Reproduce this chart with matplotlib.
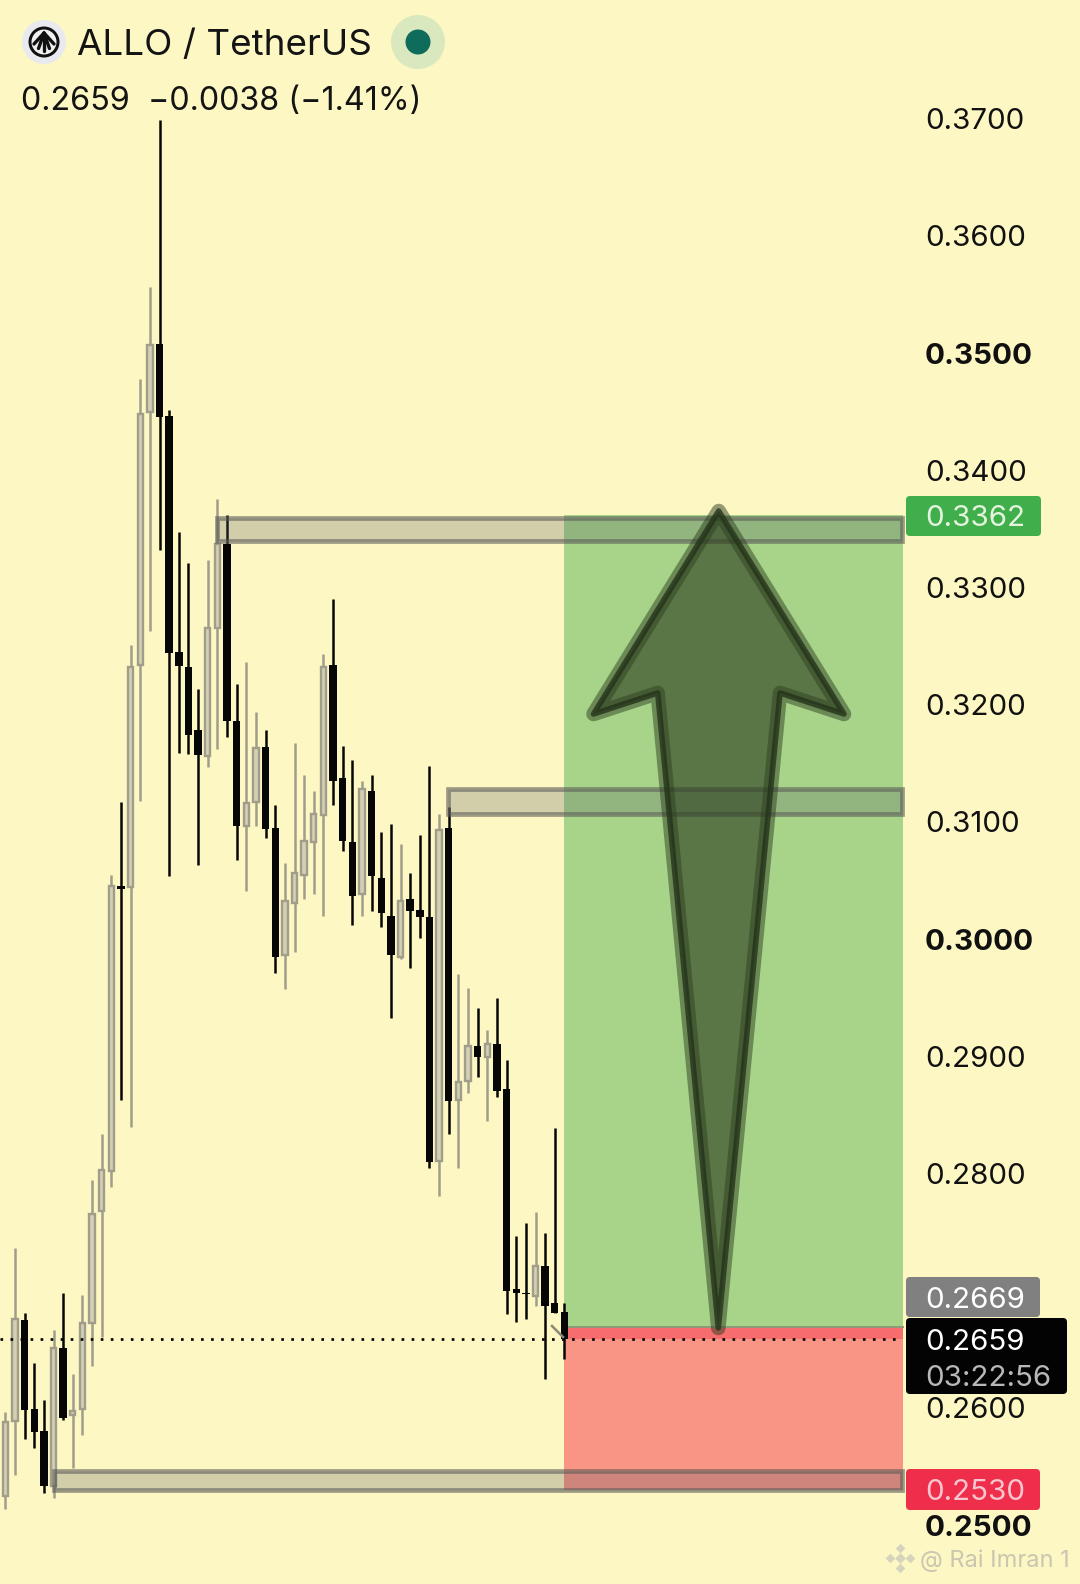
#!/usr/bin/env python3
"""ALLO / TetherUS candle chart with long setup box and arrow."""

import matplotlib
matplotlib.use("Agg")
import matplotlib.pyplot as plt
from matplotlib.patches import Circle, FancyBboxPatch, Polygon, Rectangle

# candles, oldest first
opens = [0.2525, 0.2589, 0.2675, 0.2599, 0.2580, 0.2533, 0.2651, 0.2594, 0.2599, 0.2672,
         0.2768, 0.2802, 0.3045, 0.3044, 0.3234, 0.3450, 0.3508, 0.3446, 0.3245, 0.3232,
         0.3178, 0.3156, 0.3265, 0.3337, 0.3186, 0.3096, 0.3117, 0.3164, 0.3095, 0.2986,
         0.3031, 0.3055, 0.3083, 0.3106, 0.3234, 0.3137, 0.3083, 0.3038, 0.3126, 0.3052,
         0.3020, 0.2985, 0.3034, 0.3025, 0.3019, 0.2811, 0.3095, 0.2863, 0.2879, 0.2909,
         0.2899, 0.2910, 0.2872, 0.2701, 0.2698, 0.2695, 0.2721, 0.2689, 0.2682]
highs = [0.2596, 0.2736, 0.2681, 0.2638, 0.2607, 0.2666, 0.2698, 0.2629, 0.2696, 0.2794,
         0.2834, 0.3055, 0.3117, 0.3251, 0.3478, 0.3556, 0.3699, 0.3451, 0.3347, 0.3321,
         0.3213, 0.3323, 0.3375, 0.3362, 0.3218, 0.3236, 0.3194, 0.3178, 0.3114, 0.3065,
         0.3167, 0.3140, 0.3126, 0.3243, 0.3290, 0.3165, 0.3153, 0.3135, 0.3140, 0.3091,
         0.3098, 0.3081, 0.3056, 0.3089, 0.3148, 0.3107, 0.3113, 0.2970, 0.2958, 0.2941,
         0.2922, 0.2950, 0.2897, 0.2747, 0.2758, 0.2767, 0.2749, 0.2839, 0.2689]
lows = [0.2514, 0.2543, 0.2573, 0.2566, 0.2527, 0.2523, 0.2590, 0.2549, 0.2577, 0.2636,
        0.2660, 0.2788, 0.2863, 0.2840, 0.3118, 0.3263, 0.3332, 0.3054, 0.3159, 0.3158,
        0.3063, 0.3147, 0.3162, 0.3172, 0.3067, 0.3041, 0.3096, 0.3086, 0.2971, 0.2957,
        0.2989, 0.3034, 0.3038, 0.3020, 0.3114, 0.3075, 0.3012, 0.3020, 0.3024, 0.3010,
        0.2933, 0.2983, 0.2975, 0.3001, 0.2805, 0.2781, 0.2834, 0.2805, 0.2869, 0.2882,
        0.2845, 0.2865, 0.2680, 0.2673, 0.2676, 0.2687, 0.2625, 0.2681, 0.2642]
closes = [0.2588, 0.2676, 0.2598, 0.2579, 0.2533, 0.2651, 0.2591, 0.2597, 0.2672, 0.2765,
          0.2803, 0.3045, 0.3043, 0.3232, 0.3448, 0.3507, 0.3445, 0.3244, 0.3233, 0.3174,
          0.3157, 0.3265, 0.3337, 0.3186, 0.3096, 0.3116, 0.3163, 0.3094, 0.2985, 0.3032,
          0.3056, 0.3084, 0.3107, 0.3232, 0.3135, 0.3084, 0.3037, 0.3128, 0.3054, 0.3022,
          0.2986, 0.3032, 0.3024, 0.3019, 0.2810, 0.3093, 0.2862, 0.2878, 0.2909, 0.2899,
          0.2910, 0.2870, 0.2700, 0.2698, 0.2697, 0.2721, 0.2687, 0.2681, 0.2659]

price_ticks = [0.37, 0.36, 0.35, 0.34, 0.33, 0.32, 0.31, 0.30, 0.29, 0.28, 0.26, 0.25]
bold_ticks = [0.35, 0.30, 0.25]

target = 0.3362
entry = 0.2669
last = 0.2659
stop = 0.2530

# supply/demand zones: (left candle position, upper price, lower price)
zones = [(22.0, 0.3359, 0.3340), (45.9, 0.3128, 0.3107), (5.0, 0.2546, 0.2530)]

BG = "#fdf7c3"
GREY = "#a09d8a"
HOLLOW = "#d4d0b3"
INK = "#060606"
FONT = ["Inter", "DejaVu Sans"]
W, H = 1080, 1584
RIGHT = 902  # right end of the drawings, px
TICK_SIZE = 21.3


def cx(i):
    return 5.3 + 9.64 * i


fig = plt.figure(figsize=(W / 100, H / 100), dpi=100, facecolor=BG)
ax = fig.add_axes([0, 0, 1, 1], facecolor=BG)
ax.set_xlim(0, W)
ax.set_ylim(0.25 - 59 / 11720, 0.25 + 1525 / 11720)
ax.axis("off")

# setup box
ax.add_patch(Rectangle((564, entry), RIGHT + 1 - 564, target - entry, fc="#a8d48a", ec="none", zorder=1))
ax.add_patch(Rectangle((564, stop), RIGHT + 1 - 564, entry - stop, fc="#f99585", ec="none", zorder=1))
ax.add_patch(Rectangle((564, last), RIGHT + 1 - 564, entry - last, fc="#f76c6c", ec="none", zorder=1))
ax.plot([564, RIGHT + 1], [entry, entry], color="#8f9a78", lw=1.4, zorder=1.5)

# candles
xs = [cx(i) for i in range(len(opens))]
for x, o, h, l, c in zip(xs, opens, highs, lows, closes):
    up = c >= o
    col = GREY if up else INK
    ax.vlines(x, l, h, color=col, lw=1.8, zorder=2)
    if up:
        ax.bar(x, c - o, bottom=o, width=5.4, fc=HOLLOW, ec=GREY, lw=1.7, zorder=2.1)
    else:
        ax.bar(x, o - c, bottom=c, width=7.4, fc=INK, ec="none", zorder=2.1)

# zones
for left, top, bot in zones:
    ax.add_patch(Rectangle((cx(left), bot), RIGHT - cx(left), top - bot,
                           fc=(0.32, 0.34, 0.38, 0.25), ec=(0.36, 0.36, 0.35, 0.6),
                           lw=3.4, zorder=3))

ax.plot([0, RIGHT], [last, last], color="black", lw=1.9, ls=(0, (1, 2.8)), zorder=4)

# price scale
for p in price_ticks:
    ax.text(925, p, f"{p:.4f}", ha="left", va="center_baseline", color="#111111", family=FONT,
            fontsize=TICK_SIZE, fontweight="bold" if p in bold_ticks else "normal", zorder=5)

# overlay in pixel coordinates for header, tags and the arrow
ov = fig.add_axes([0, 0, 1, 1], facecolor="none")
ov.set_xlim(0, W)
ov.set_ylim(H, 0)
ov.axis("off")

arrow = [(718.7, 511), (593.5, 714), (657.7, 693), (718.3, 1328), (780, 693), (844, 714)]
ov.add_patch(Polygon(arrow, closed=True, fc=(0.176, 0.247, 0.122, 0.63), ec="none"))
ov.add_patch(Polygon(arrow, closed=True, fc="none", ec=(0.176, 0.247, 0.122, 0.5), lw=10.5, joinstyle="round"))
ov.add_patch(Polygon(arrow, closed=True, fc="none", ec=(0.14, 0.2, 0.1, 0.8), lw=4.0, joinstyle="round"))
ov.plot([552, 563], [1326, 1337], color="#8a8a78", lw=1.8)


def tag(x0, y0, x1, y1, color):
    ov.add_patch(FancyBboxPatch((x0, y0), x1 - x0, y1 - y0, boxstyle="round,pad=0,rounding_size=4",
                                fc=color, ec="none"))


def label(x, y, s, color, size=TICK_SIZE, **kw):
    ov.text(x, y, s, color=color, fontsize=size, ha="left", va="center_baseline", family=FONT, **kw)


tag(906, 496, 1041, 536, "#3fae4b")
label(925, 516, f"{target:.4f}", "#e4f4de")
tag(906, 1277, 1040, 1317, "#808080")
label(925, 1297, f"{entry:.4f}", "#ffffff")
tag(906, 1318, 1067, 1394, "#030303")
label(925, 1340, f"{last:.4f}", "#ffffff")
label(925, 1375, "03:22:56", "#b8b8b8")
tag(906, 1469, 1040, 1510, "#ee2e4a")
label(925, 1490, f"{stop:.4f}", "#f9c6cf")

# header
ov.add_patch(Circle((44, 42), 22, fc="#e9eaf0", ec="none"))
ov.add_patch(Circle((44, 42), 15.5, fc="#111111", ec="none"))
ov.add_patch(Circle((44, 42), 12.5, fc="#f0f0f0", ec="none"))
for tip_x, tip_y in [(34, 44), (38.5, 48.5), (44, 51), (49.5, 48.5), (54, 44)]:
    ov.plot([44, tip_x], [33, tip_y], color="#111111", lw=2.4, solid_capstyle="round")
ov.add_patch(Circle((418, 42), 27, fc="#d9e8be", ec="none"))
ov.add_patch(Circle((418, 42), 12.5, fc="#0f6b5a", ec="none"))
label(77, 42, "ALLO / TetherUS", "#141414", size=26.5)
label(21, 98, "0.2659  \u22120.0038 (\u22121.41%)", "#141414", size=23.3)

# watermark
for dx, dy, s in [(0, 0, 30), (-10, 0, 24), (10, 0, 24), (0, -10, 24), (0, 10, 24)]:
    ov.scatter(900 + dx, 1558 + dy, marker="D", s=s, color="#d6d4bc", linewidths=0)
label(920, 1558, "@ Rai Imran 1", "#c9c7b0", size=17)

fig.savefig("out.png", dpi=100, facecolor=BG)
